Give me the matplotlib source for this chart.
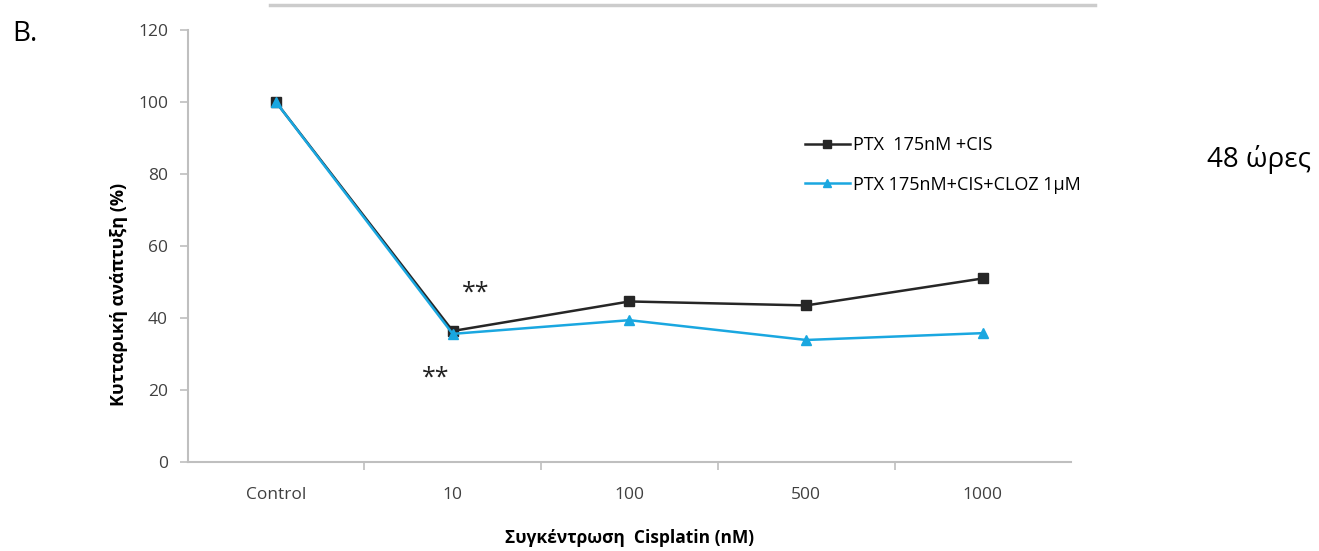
import matplotlib
matplotlib.use('Agg')
from matplotlib import pyplot as plt

plt.rcParams['font.family'] = ['Open Sans', 'DejaVu Sans']

categories = ['Control', '10', '100', '500', '1000']
ptx_cis = [100, 36.4, 44.6, 43.5, 51.0]
ptx_cis_cloz = [100, 35.6, 39.4, 33.9, 35.8]
label_cis = 'PTX  175nM +CIS'
label_cloz = 'PTX 175nM+CIS+CLOZ 1μM'

grey = '#bfbfbf'
tick_colour = '#404040'

fig = plt.figure(figsize=(13.19, 5.51), dpi=100)
ax = fig.add_axes([0.1422, 0.1615, 0.670, 0.784])

x = list(range(len(categories)))
ax.plot(x, ptx_cis, color='#262626', marker='s', markersize=6.5, linewidth=1.8, label=label_cis)
ax.plot(x, ptx_cis_cloz, color='#1aa7e0', marker='^', markersize=6.5, linewidth=1.8, label=label_cloz)

ax.set_xlim(-0.5, len(categories) - 0.5)
ax.set_ylim(0, 120)
ax.set_yticks(range(0, 121, 20))
ax.set_xticks(x)
ax.set_xticklabels(categories)
ax.set_xticks([i + 0.5 for i in x[:-1]], minor=True)
ax.tick_params(axis='x', which='major', length=0, pad=18, labelsize=12.5, labelcolor=tick_colour)
ax.tick_params(axis='x', which='minor', length=6, color=grey, width=1.2)
ax.tick_params(axis='y', length=6, color=grey, width=1.2, labelsize=12.5, labelcolor=tick_colour, pad=8)

for side in ['top', 'right']:
    ax.spines[side].set_visible(False)
for side in ['left', 'bottom']:
    ax.spines[side].set_color(grey)
    ax.spines[side].set_linewidth(1.5)

ax.set_xlabel('Συγκέντρωση  Cisplatin (nM)', fontsize=12.5, fontweight='bold', labelpad=19)
ax.set_ylabel('Κυτταρική ανάπτυξη (%)', fontsize=13, fontweight='bold', labelpad=8)
ax.yaxis.set_label_coords(-0.067, 0.387)

ax.text(1.13, 47, '**', fontsize=18, ha='center', va='center', color='#222222')
ax.text(0.905, 23.3, '**', fontsize=18, ha='center', va='center', color='#222222')

ax.legend(loc='upper left', bbox_to_anchor=(0.6985, 0.755), frameon=False, fontsize=13,
          borderaxespad=0, borderpad=0, handlelength=2.5, handletextpad=0.15,
          labelspacing=1.2, markerscale=0.8)

fig.text(0.009, 0.938, 'B.', fontsize=20, va='center', ha='left')
fig.text(0.915, 0.71, '48 ώρες', fontsize=20, va='center', ha='left')
fig.add_artist(plt.Line2D([0.205, 0.83], [0.991, 0.991], color='#cccccc', linewidth=2.5))

fig.savefig('out.png', dpi=100)
